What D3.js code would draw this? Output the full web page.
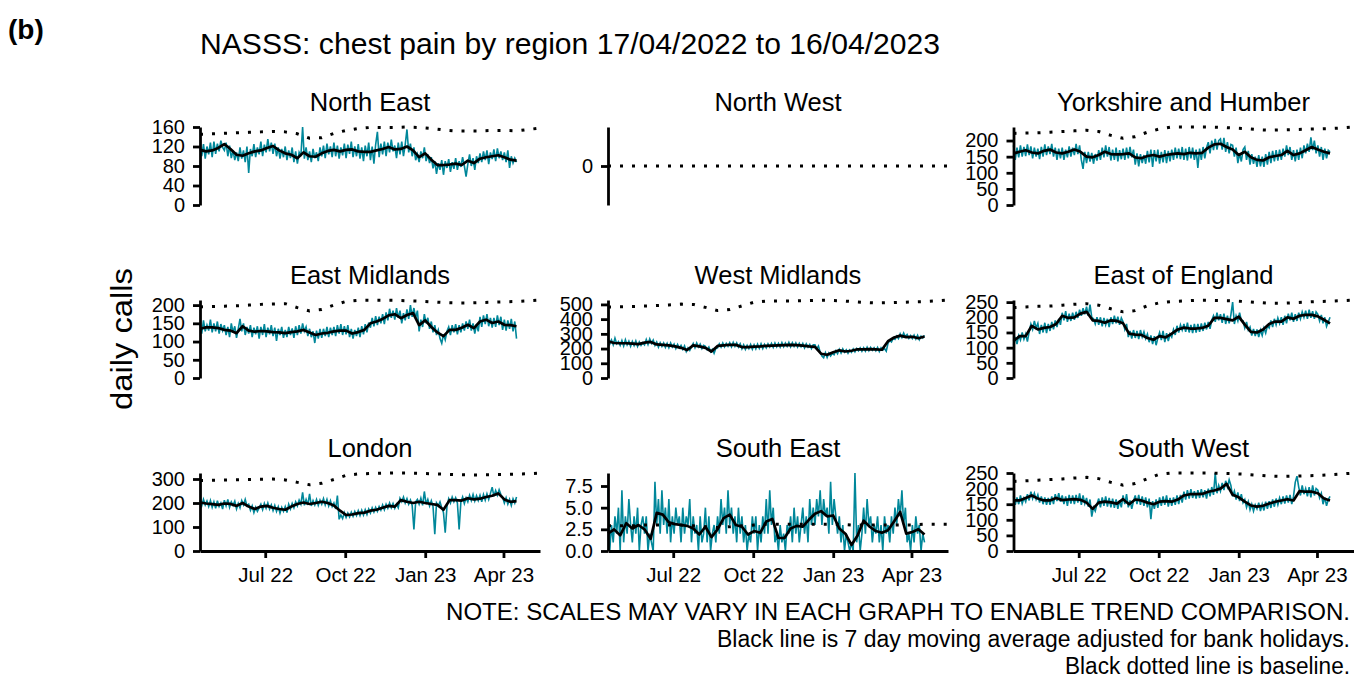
<!DOCTYPE html>
<html>
<head>
<script src="https://cdn.jsdelivr.net/npm/d3@7"></script>
<style>
  body { margin: 0; background: #fff; }
  svg text { font-family: "Liberation Sans", Arial, sans-serif; fill: #000; }
  .axis path, .axis line { stroke: #000; stroke-width: 2.8; }
  .axis text { font-size: 20px; }
  .daily { fill: none; stroke: #00879a; stroke-width: 1.6; }
  .avg { fill: none; stroke: #000; stroke-width: 2.7; stroke-linejoin: round; }
  .base { fill: none; stroke: #000; stroke-width: 3; stroke-dasharray: 3, 9; }
</style>
</head>
<body>
<script>
// ---- data ----
var regions = ["North East", "North West", "Yorkshire and Humber",
               "East Midlands", "West Midlands", "East of England",
               "London", "South East", "South West"];

var startDate = new Date(2022, 3, 17);
var endDate = new Date(2023, 4, 13);
var dailyStep = 2, avgStep = 7, baseStep = 14;   // days between values
var xTicks = ["2022-07-01", "2022-10-01", "2023-01-01", "2023-04-01"];

var dailyNE = [118,100,125,95,120,104,128, 98,130,105,126,110,132,118, 112,128,100,122,96,112,92, 108,90,118,95,112,88,120,
  66,115,100,125,98,118,104, 130,100,124,108,135,110,128, 105,126,100,118,95,115,98, 120,92,112,96,118,88,110,
  85,108,100,160,95,118,92, 110,88,115,96,108,90,118, 100,122,96,126,104,120,98, 128,100,122,95,118,102,126,
  96,124,105,130,98,120,100, 125,95,118,90,122,100,128, 92,120,85,124,150,98,126, 104,130,100,128,108,134,110,
  122,96,128,104,130,100,124, 155,108,126,100,118,92,104, 88,110,96,118,90,104,86, 98,75,90,64,86,72,92,
  62,90,76,94,68,88,74, 96,72,90,78,98,80,58, 84,104,80,96,72,100,86, 106,88,110,92,112,84,108,
  94,114,90,116,96,110,92, 108,88,112,76,100,86,96, 88];
var avgNE = [113,110,112,117,125,115,103,101,106,110,112,117,121,112,106,103,96,108,100,99,106,111,113,110,113,114,110,
  109,109,112,115,119,114,115,120,112,98,106,93,82,82,83,85,82,91,86,95,98,100,102,98,93,91];
var baseNE = [145,146,147,148,149,150,151,150,146,137,138,147,153,157,159,159,159,160,159,157,154,152,152,152,153,153,152,155,158];

var dailyNW = [];
var avgNW = [];
var baseNW = [0,0,0,0,0,0,0,0,0,0,0,0,0,0,0,0,0,0,0,0,0,0,0,0,0,0,0,0,0];

var dailyYH = [185,140,178,148,185,150,180, 152,188,155,182,145,178,150, 175,142,180,150,188,155,182, 158,190,150,178,140,175,145,
  178,140,172,148,182,150,178, 155,190,158,185,140,112,165, 130,165,135,162,128,158,138, 170,140,178,148,185,150,180,
  138,172,140,178,135,170,142, 175,140,178,145,180,148,172, 125,160,120,158,130,155,128, 168,132,172,118,170,135,172,
  128,165,132,170,130,168,135, 172,140,178,145,175,142,180, 140,175,138,180,145,178,140, 172,115,175,140,180,145,178,
  195,160,200,170,205,172,200, 205,172,208,165,195,160,188, 185,150,178,130,160,135,172, 180,140,168,125,158,128,150,
  118,155,120,150,118,158,125, 165,130,168,135,170,138,172, 140,175,150,185,155,180,140, 170,135,172,140,178,145,185,
  160,190,165,210,170,200,160, 185,150,180,140,175,145,170, 165];
var avgYH = [160,165,170,163,160,168,172,163,160,165,172,165,150,148,155,165,158,157,158,160,148,145,152,155,150,155,158,
  160,158,162,160,162,178,188,190,180,172,155,165,148,140,138,148,152,155,168,155,160,170,180,172,165,160];
var baseYH = [222,223,224,226,228,230,232,228,216,207,212,226,236,242,242,242,242,241,239,237,234,232,233,234,235,236,237,239,242];

var dailyEM = [150,122,158,128,145,130,160, 125,150,128,155,122,148,130, 145,118,140,112,150,125,142, 110,135,162,128,150,118,140,
  122,145,112,138,120,142,108, 140,118,148,112,138,120,145, 115,138,102,135,118,140,110, 132,112,140,118,136,110,142,
  118,145,122,150,128,140,115, 135,112,128,96,130,108,135, 110,135,115,140,112,138,118, 140,115,145,122,148,118,142,
  120,145,112,135,108,132,115, 138,112,142,120,148,125,152, 138,165,142,170,145,168,150, 175,148,180,158,190,165,185,
  160,192,165,185,150,178,158, 188,162,200,168,192,165,185, 128,160,140,175,150,165,135, 155,125,145,118,132,108,95,
  120,105,128,140,118,145,125, 148,120,145,125,150,130,155, 135,160,130,150,122,148,128, 168,140,172,148,175,142,165,
  138,165,140,172,145,168,132, 160,130,158,135,162,128,155, 108];
var avgEM = [135,139,139,137,132,130,123,142,130,127,129,128,126,125,123,126,128,132,125,118,122,124,128,130,130,122,126,
  132,150,155,162,172,175,164,173,178,145,158,140,125,115,132,132,138,146,137,155,160,151,155,146,145,142];
var baseEM = [195,196,197,198,200,202,203,204,193,184,188,200,210,213,213,213,213,212,211,209,207,206,206,207,208,209,210,212,214];

var dailyWM = [265,230,258,225,270,232,248, 222,255,218,260,225,250,215, 248,220,252,215,245,222,240, 225,262,228,265,235,258,222,
  245,210,240,215,238,208,235, 205,238,210,230,200,228,205, 222,195,218,180,205,188,212, 235,205,238,210,230,200,222,
  215,192,210,178,195,168,200, 205,232,210,238,212,235,215, 240,212,242,215,238,210,232, 198,225,195,222,200,228,195,
  225,198,230,202,232,200,228, 205,232,210,235,208,238,212, 236,210,240,212,238,215,242, 212,240,215,238,210,236,212,
  235,205,232,210,228,200,225, 225,198,218,175,150,138,172, 140,170,150,168,158,185,165, 195,170,198,175,192,168,190,
  175,198,178,200,185,205,182, 205,182,210,185,208,188,205, 185,208,180,205,190,200,182, 235,255,245,270,262,285,268,
  300,275,305,280,295,270,288, 268,292,265,290,260,285,272, 290];
var avgWM = [250,238,236,236,234,230,240,245,228,225,222,215,205,190,222,215,205,180,218,222,226,225,210,210,213,215,218,
  220,222,224,225,224,220,215,212,165,158,175,188,180,185,195,195,196,194,192,250,275,288,278,280,270,282];
var baseWM = [482,484,486,489,492,496,502,500,480,458,465,490,515,522,523,523,525,527,528,525,520,514,510,511,514,517,519,524,530];

var dailyEE = [110,135,112,140,125,150,128, 145,120,152,178,160,188,165, 180,145,175,150,182,148,178, 155,185,160,190,168,195,175,
  215,190,220,185,212,188,215, 192,218,198,225,205,230,210, 235,205,242,200,195,178,200, 175,200,170,198,175,195,168,
  200,178,205,180,202,175,198, 185,160,178,135,155,130,158, 132,155,128,158,135,152,130, 145,118,140,112,138,108,132,
  150,125,155,118,148,122,145, 135,160,142,172,150,175,158, 178,152,182,150,175,148,178, 150,178,152,180,155,182,160,
  185,162,190,205,185,215,190, 210,182,212,178,205,180,208, 250,178,205,188,215,190,188, 165,185,158,168,140,162,138,
  160,135,158,140,165,148,172, 165,190,168,195,175,198,180, 200,175,205,180,212,190,215, 185,210,188,215,195,218,200,
  222,195,225,198,220,195,218, 210,188,208,180,200,170,185, 200];
var avgEE = [122,138,138,172,160,165,168,178,205,198,200,212,218,190,188,182,190,188,180,146,143,142,132,126,138,134,146,
  160,166,163,163,165,172,198,198,194,190,202,176,152,150,160,178,186,186,200,195,205,208,208,203,192,180];
var baseEE = [232,234,236,237,240,243,245,240,228,218,222,238,248,252,254,256,256,255,254,252,249,246,246,248,250,252,253,255,257];

var dailyLO = [212,188,215,192,208,185,210, 182,205,178,210,185,200,175, 212,188,215,182,205,190,208, 175,198,180,210,192,215,188,
  195,170,188,160,182,165,180, 195,172,198,178,200,175,192, 168,190,165,185,158,182,165, 185,160,195,175,198,180,205,
  188,212,195,244,190,215,192, 238,188,210,192,215,190,212, 195,218,192,215,188,210,185, 200,175,231,132,150,135,160,
  140,158,142,162,145,165,148, 168,148,170,150,172,152,175, 158,180,162,182,165,185,170, 192,172,195,178,200,180,198,
  178,195,180,220,205,225,200, 218,195,212,190,90,205,215, 195,220,190,248,195,215,188, 210,185,70,200,188,205,180,
  160,76,185,218,200,225,205, 222,200,90,205,225,198,222, 205,232,210,235,208,230,210, 232,205,235,212,238,215,240,
  266,228,252,232,255,235,225, 200,222,195,215,190,218,200, 225];
var avgLO = [202,198,195,192,198,196,188,200,185,175,185,188,180,175,172,185,196,202,196,200,205,200,190,168,150,152,158,
  160,168,172,180,188,185,212,205,200,205,200,196,192,172,212,212,210,220,215,218,225,230,240,215,205,208];
var baseLO = [294,295,296,297,298,299,300,296,286,276,282,298,315,321,323,324,325,325,324,322,320,318,317,317,318,319,320,322,325];

var dailySE = [7,0,3,1,4,2,5, 0,7,1,4,2,6,3, 1,4,2,5,0,3,4, 2,4,0,2,1,0,8, 3,6,2,7,3,5,2, 6,1,4,2,5,3,4, 1,5,2,4,3,6,1,
  4,2,3,0,4,1,2, 5,1,4,0,2,3,1, 4,2,6,3,5,2,7, 3,5,2,4,1,5,2, 4,1,3,0,2,1,4, 2,4,0,3,1,4,2, 6,2,7,3,5,1,2,
  0,3,1,2,0,3,2, 4,1,5,2,4,1,3, 5,2,4,1,6,3,5, 3,6,4,7,3,6,4, 5,2,8,3,6,4,2, 4,1,3,0,2,1,0, 1,0,9,1,3,0,2,
  5,2,6,3,4,1,3, 2,4,1,3,0,4,2, 3,1,4,2,5,3,6, 4,7,3,5,1,2,0, 3,1,4,2,3,0,2, 1];
var avgSE = [2.0,2.5,1.8,3.2,2.6,3.0,2.5,1.4,4.4,4.2,3.3,3.1,3.0,2.9,2.6,1.9,2.8,1.6,2.5,3.8,4.2,3.0,2.8,1.9,2.3,2.1,3.4,
  3.7,1.5,1.5,2.6,2.9,2.8,3.6,4.3,4.6,4.0,4.1,2.6,2.0,0.7,1.8,3.5,2.8,2.3,2.1,2.4,3.4,4.5,2.0,2.2,2.5,1.9];
var baseSE = [2.9,2.9,2.9,3.0,3.0,3.0,3.0,2.9,2.8,2.7,2.8,2.9,3.0,3.1,3.1,3.1,3.1,3.1,3.1,3.1,3.0,3.0,3.0,3.0,3.0,3.0,3.1,3.1,3.1];

var dailySW = [175,148,172,150,178,152,170, 158,182,162,190,168,185,165, 180,155,175,150,172,148,170, 148,175,150,182,160,185,158,
  178,150,175,145,180,152,178, 150,180,155,185,148,178,152, 170,142,165,110,140,128,150, 168,140,172,145,175,142,170,
  140,168,138,165,135,162,140, 178,150,182,140,162,135,160, 178,150,180,148,175,145,172, 140,168,102,160,135,165,138,
  172,145,175,148,178,142,170, 145,172,148,178,150,180,155, 190,165,195,168,198,170,192, 168,195,170,198,172,195,168,
  200,175,205,180,250,185,210, 192,218,195,225,205,228,210, 175,192,165,188,160,182,155, 165,140,158,132,150,128,148,
  135,155,128,150,130,158,135, 160,138,165,142,168,148,170, 150,175,152,178,155,180,150, 175,220,240,205,178,210,182,
  200,175,205,172,210,178,200, 195,170,185,150,172,145,165, 175];
var avgSW = [162,162,170,178,168,162,162,170,163,165,166,164,155,135,155,158,156,152,166,150,165,162,155,150,158,160,158,
  165,178,182,182,183,190,194,200,215,180,172,158,146,142,145,152,158,162,166,162,192,190,190,185,168,162];
var baseSW = [223,225,227,229,231,234,236,232,220,211,216,232,246,250,250,250,250,249,248,246,243,240,239,240,241,242,244,247,250];

var ticksNE = [0, 40, 80, 120, 160];
var ticksNW = [0];
var ticksYH = [0, 50, 100, 150, 200];
var ticksEM = [0, 50, 100, 150, 200];
var ticksWM = [0, 100, 200, 300, 400, 500];
var ticksEE = [0, 50, 100, 150, 200, 250];
var ticksLO = [0, 100, 200, 300];
var ticksSE = [0, 2.5, 5, 7.5];
var ticksSW = [0, 50, 100, 150, 200, 250];

var panels = [
  { daily: dailyNE, avg: avgNE, base: baseNE, ticks: ticksNE },
  { daily: dailyNW, avg: avgNW, base: baseNW, ticks: ticksNW },
  { daily: dailyYH, avg: avgYH, base: baseYH, ticks: ticksYH },
  { daily: dailyEM, avg: avgEM, base: baseEM, ticks: ticksEM },
  { daily: dailyWM, avg: avgWM, base: baseWM, ticks: ticksWM },
  { daily: dailyEE, avg: avgEE, base: baseEE, ticks: ticksEE },
  { daily: dailyLO, avg: avgLO, base: baseLO, ticks: ticksLO },
  { daily: dailySE, avg: avgSE, base: baseSE, ticks: ticksSE, fmt: ".1f" },
  { daily: dailySW, avg: avgSW, base: baseSW, ticks: ticksSW }
];

// ---- layout ----
var width = 1357, height = 686;
var colLeft = [200, 608, 1013.5],
    rowTop = [127, 300, 473],
    panelW = 340,
    panelH = 78;

var svg = d3.select("body").append("svg")
    .attr("width", width)
    .attr("height", height);

function toPoints(values, step) {
  return values.map(function(v, k) {
    return { date: d3.timeDay.offset(startDate, k * step), v: v };
  });
}

var x = d3.scaleTime()
    .domain([startDate, endDate])
    .range([0, panelW]);

panels.forEach(function(p, i) {
  var col = i % 3, row = Math.floor(i / 3);
  var g = svg.append("g")
      .attr("transform", "translate(" + colLeft[col] + "," + rowTop[row] + ")");

  var top = d3.max(p.daily.concat(p.avg, p.base));
  var y = d3.scaleLinear().range([panelH, 0]);
  if (top > 0) y.domain([0, top]); else y.domain([-1, 1]);

  var line = d3.line()
      .x(function(d) { return x(d.date); })
      .y(function(d) { return y(d.v); });

  if (p.daily.length) {
    g.append("path").datum(toPoints(p.daily, dailyStep))
        .attr("class", "daily").attr("d", line);
  }
  if (p.avg.length) {
    g.append("path").datum(toPoints(p.avg, avgStep))
        .attr("class", "avg").attr("d", line);
  }
  g.append("path").datum(toPoints(p.base, baseStep))
      .attr("class", "base").attr("d", line);

  g.append("g")
      .attr("class", "axis")
      .call(d3.axisLeft(y)
        .tickValues(p.ticks)
        .tickFormat(d3.format(p.fmt || "d"))
        .tickSize(7).tickSizeOuter(0).tickPadding(8));

  if (row === 2) {
    g.append("g")
        .attr("class", "axis")
        .attr("transform", "translate(0," + panelH + ")")
        .call(d3.axisBottom(x)
          .tickValues(xTicks.map(function(s) { return d3.timeParse("%Y-%m-%d")(s); }))
          .tickFormat(d3.timeFormat("%b %y"))
          .tickSize(7).tickSizeOuter(0).tickPadding(9))
      .selectAll("text")
        .style("font-size", "20.5px");
  }

  svg.append("text")
      .attr("x", colLeft[col] + panelW / 2)
      .attr("y", rowTop[row] - 16)
      .attr("text-anchor", "middle")
      .style("font-size", "25.5px")
      .text(regions[i]);
});

// ---- titles and notes ----
svg.append("text")
    .attr("x", 8).attr("y", 39)
    .style("font-size", "28px").style("font-weight", "bold")
    .text("(b)");

svg.append("text")
    .attr("x", 200).attr("y", 53.5)
    .attr("textLength", 740).attr("lengthAdjust", "spacingAndGlyphs")
    .style("font-size", "29px")
    .text("NASSS: chest pain by region 17/04/2022 to 16/04/2023");

svg.append("text")
    .attr("transform", "translate(132,339) rotate(-90)")
    .attr("text-anchor", "middle")
    .attr("textLength", 142).attr("lengthAdjust", "spacingAndGlyphs")
    .style("font-size", "29px")
    .text("daily calls");

var notes = [
  { t: "NOTE: SCALES MAY VARY IN EACH GRAPH TO ENABLE TREND COMPARISON.", w: 904, y: 620 },
  { t: "Black line is 7 day moving average adjusted for bank holidays.", w: 633, y: 647 },
  { t: "Black dotted line is baseline.", w: 285, y: 674 }
];
svg.selectAll(".note").data(notes).enter().append("text")
    .attr("class", "note")
    .attr("x", 1350).attr("y", function(d) { return d.y; })
    .attr("text-anchor", "end")
    .attr("textLength", function(d) { return d.w; })
    .attr("lengthAdjust", "spacingAndGlyphs")
    .style("font-size", "23.5px")
    .text(function(d) { return d.t; });
</script>
</body>
</html>
